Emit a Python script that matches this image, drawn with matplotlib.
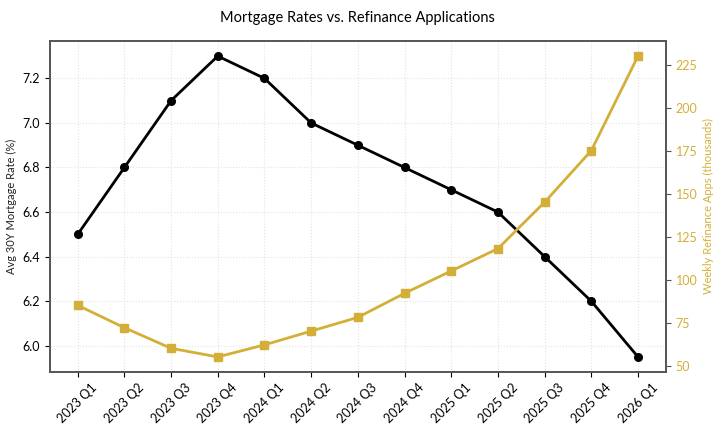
import matplotlib
matplotlib.use('Agg')
import matplotlib.pyplot as plt

plt.rcParams['font.family'] = ['Lato', 'DejaVu Sans']

quarters = ['2023 Q1', '2023 Q2', '2023 Q3', '2023 Q4', '2024 Q1', '2024 Q2', '2024 Q3',
            '2024 Q4', '2025 Q1', '2025 Q2', '2025 Q3', '2025 Q4', '2026 Q1']
mortgage_rate = [6.5, 6.8, 7.1, 7.3, 7.2, 7.0, 6.9, 6.8, 6.7, 6.6, 6.4, 6.2, 5.95]
refi_apps = [85, 72, 60, 55, 62, 70, 78, 92, 105, 118, 145, 175, 230]

gold = '#D4AF37'
spine_color = '#555555'

fig, ax = plt.subplots(figsize=(7.2, 4.32), dpi=100)
fig.subplots_adjust(left=0.069, right=0.925, bottom=0.139, top=0.905)

x = range(len(quarters))
ax.plot(x, mortgage_rate, color='black', marker='o', markersize=5.5, linewidth=2, zorder=3)
ax.set_ylabel('Avg 30Y Mortgage Rate (%)', fontsize=8, color='#222222')
ax.set_xticks(list(x))
ax.set_xticklabels(quarters, rotation=45, fontsize=9)
ax.tick_params(axis='y', labelsize=9)
ax.grid(True, linestyle=':', color='#e2e2e2', linewidth=0.8)
ax.set_axisbelow(True)

ax2 = ax.twinx()
ax2.plot(x, refi_apps, color=gold, marker='s', markersize=5.5, linewidth=2, zorder=3)
ax2.set_ylabel('Weekly Refinance Apps (thousands)', fontsize=8, color=gold)
ax2.tick_params(axis='y', colors=gold, labelsize=9)

for a in (ax, ax2):
    for s in a.spines.values():
        s.set_color(spine_color)
        s.set_linewidth(1.2)
ax2.tick_params(axis='y', color=spine_color)

ax.set_title('Mortgage Rates vs. Refinance Applications', fontsize=10.5, pad=14)

fig.savefig('out.png')
